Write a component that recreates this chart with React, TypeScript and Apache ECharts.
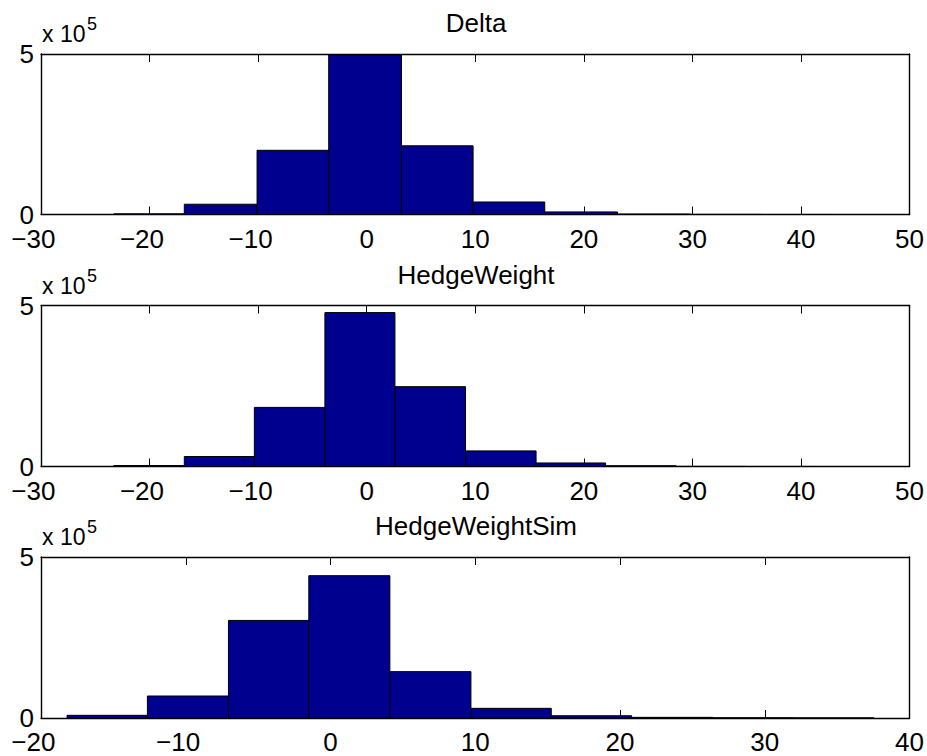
import React, { useEffect, useRef } from "react";
import * as echarts from "echarts";

const FONT = '"Liberation Sans", Arial, Helvetica, sans-serif';

// Titles
const titles = ["Delta", "HedgeWeight", "HedgeWeightSim"];

// Bin edges
const deltaEdges = [-23.3, -16.8, -10.1, -3.5, 3.2, 9.8, 16.4, 23.1, 29.8, 36.4, 43.0];
const hedgeEdges = [-23.3, -16.8, -10.35, -3.85, 2.6, 9.1, 15.6, 22.0, 28.5, 35.0, 41.4];
const simEdges = [-18.2, -12.65, -7.05, -1.5, 4.1, 9.7, 15.25, 20.8, 26.4, 32.0, 37.55];

// Bin counts
const deltaCounts = [2000, 32000, 200000, 497000, 214000, 39000, 8000, 1500, 300, 50];
const hedgeCounts = [3000, 31000, 183500, 478000, 248000, 48500, 11000, 2500, 300, 50];
const simCounts = [8300, 68300, 303000, 442000, 144000, 30000, 7000, 2000, 500, 200];

// Axis ranges / ticks
const xRanges = [
  [-30, 50],
  [-30, 50],
  [-20, 40],
];
const xInterval = 10;
const yMax = 500000;

export default function App() {
  const ref = useRef<HTMLDivElement>(null);

  useEffect(() => {
    if (!ref.current) return;
    const chart = echarts.init(ref.current, null, { renderer: "svg" });

    const edgesList = [deltaEdges, hedgeEdges, simEdges];
    const countsList = [deltaCounts, hedgeCounts, simCounts];
    const tops = [54, 305.5, 557];
    const heights = [160.5, 161, 161];
    const left = 41;
    const width = 870;
    const TICK_FS = 26;

    const grid: any[] = [];
    const xAxis: any[] = [];
    const yAxis: any[] = [];
    const series: any[] = [];
    const graphic: any[] = [];

    // digits stay centred on the tick, the minus sign hangs to the left:
    // an invisible trailing token balances the width of the minus
    const xLabel = (v: number) =>
      v < 0 ? "{n|\u2212" + String(-v) + "}{z|\u2212}" : "{n|" + String(v) + "}";

    for (let i = 0; i < 3; i++) {
      grid.push({
        left,
        top: tops[i],
        width,
        height: heights[i],
        show: false,
      });
      const lineStyle = { color: "#000", width: 1.4 };
      xAxis.push({
        type: "value",
        gridIndex: i,
        min: xRanges[i][0],
        max: xRanges[i][1],
        interval: xInterval,
        position: "bottom",
        axisLine: { show: true, onZero: false, lineStyle },
        axisTick: { show: true, inside: true, length: 8, lineStyle: { color: "#000", width: 1 } },
        splitLine: { show: false },
        axisLabel: {
          show: true,
          color: "#000",
          fontFamily: FONT,
          fontSize: TICK_FS,
          lineHeight: 24,
          margin: 12,
          formatter: xLabel,
          rich: {
            n: { fontFamily: FONT, fontSize: TICK_FS, lineHeight: 24, color: "#000" },
            z: { fontFamily: FONT, fontSize: TICK_FS, lineHeight: 24, color: "rgba(255,255,255,0)" },
          },
        },
      });
      xAxis.push({
        type: "value",
        gridIndex: i,
        min: xRanges[i][0],
        max: xRanges[i][1],
        interval: xInterval,
        position: "top",
        axisLine: { show: true, onZero: false, lineStyle },
        axisTick: { show: true, inside: true, length: 8, lineStyle: { color: "#000", width: 1 } },
        splitLine: { show: false },
        axisLabel: { show: false },
      });
      yAxis.push({
        type: "value",
        gridIndex: i,
        min: 0,
        max: yMax,
        interval: yMax,
        position: "left",
        axisLine: { show: true, onZero: false, lineStyle },
        axisTick: { show: false },
        splitLine: { show: false },
        axisLabel: {
          show: true,
          color: "#000",
          fontFamily: FONT,
          fontSize: TICK_FS,
          lineHeight: 22,
          margin: 7,
          formatter: (v: number) => String(v / 100000),
        },
      });
      yAxis.push({
        type: "value",
        gridIndex: i,
        min: 0,
        max: yMax,
        interval: yMax,
        position: "right",
        axisLine: { show: true, onZero: false, lineStyle },
        axisTick: { show: false },
        splitLine: { show: false },
        axisLabel: { show: false },
      });

      const edges = edgesList[i];
      const counts = countsList[i];
      const data = counts.map((c, k) => [edges[k], edges[k + 1], c]);
      series.push({
        type: "custom",
        xAxisIndex: i * 2,
        yAxisIndex: i * 2,
        clip: true,
        encode: { x: [0, 1], y: 2 },
        data,
        renderItem: (params: any, api: any) => {
          const x0 = api.value(0);
          const x1 = api.value(1);
          const c = api.value(2);
          const p0 = api.coord([x0, 0]);
          const p1 = api.coord([x1, c]);
          return {
            type: "rect",
            shape: {
              x: p0[0],
              y: p1[1],
              width: p1[0] - p0[0],
              height: p0[1] - p1[1],
            },
            style: { fill: "#00008F", stroke: "#000", lineWidth: 1 },
          };
        },
      });

      graphic.push({
        type: "text",
        x: left + width / 2,
        y: tops[i] - 31,
        style: {
          text: titles[i],
          fontFamily: FONT,
          fontSize: 26,
          fill: "#000",
          align: "center",
          verticalAlign: "middle",
        },
      });
      graphic.push({
        type: "text",
        x: 42,
        y: tops[i] - 20,
        style: {
          text: "x 10",
          fontFamily: FONT,
          fontSize: 23,
          fill: "#000",
          align: "left",
          verticalAlign: "middle",
        },
      });
      graphic.push({
        type: "text",
        x: 87,
        y: tops[i] - 30,
        style: {
          text: "5",
          fontFamily: FONT,
          fontSize: 18,
          fill: "#000",
          align: "left",
          verticalAlign: "middle",
        },
      });
    }

    chart.setOption({
      animation: false,
      backgroundColor: "#fff",
      grid,
      xAxis,
      yAxis,
      series,
      graphic,
    });

    return () => chart.dispose();
  }, []);

  return (
    <div
      ref={ref}
      style={{ position: "absolute", left: 0, top: 0, width: 927, height: 756 }}
    />
  );
}
